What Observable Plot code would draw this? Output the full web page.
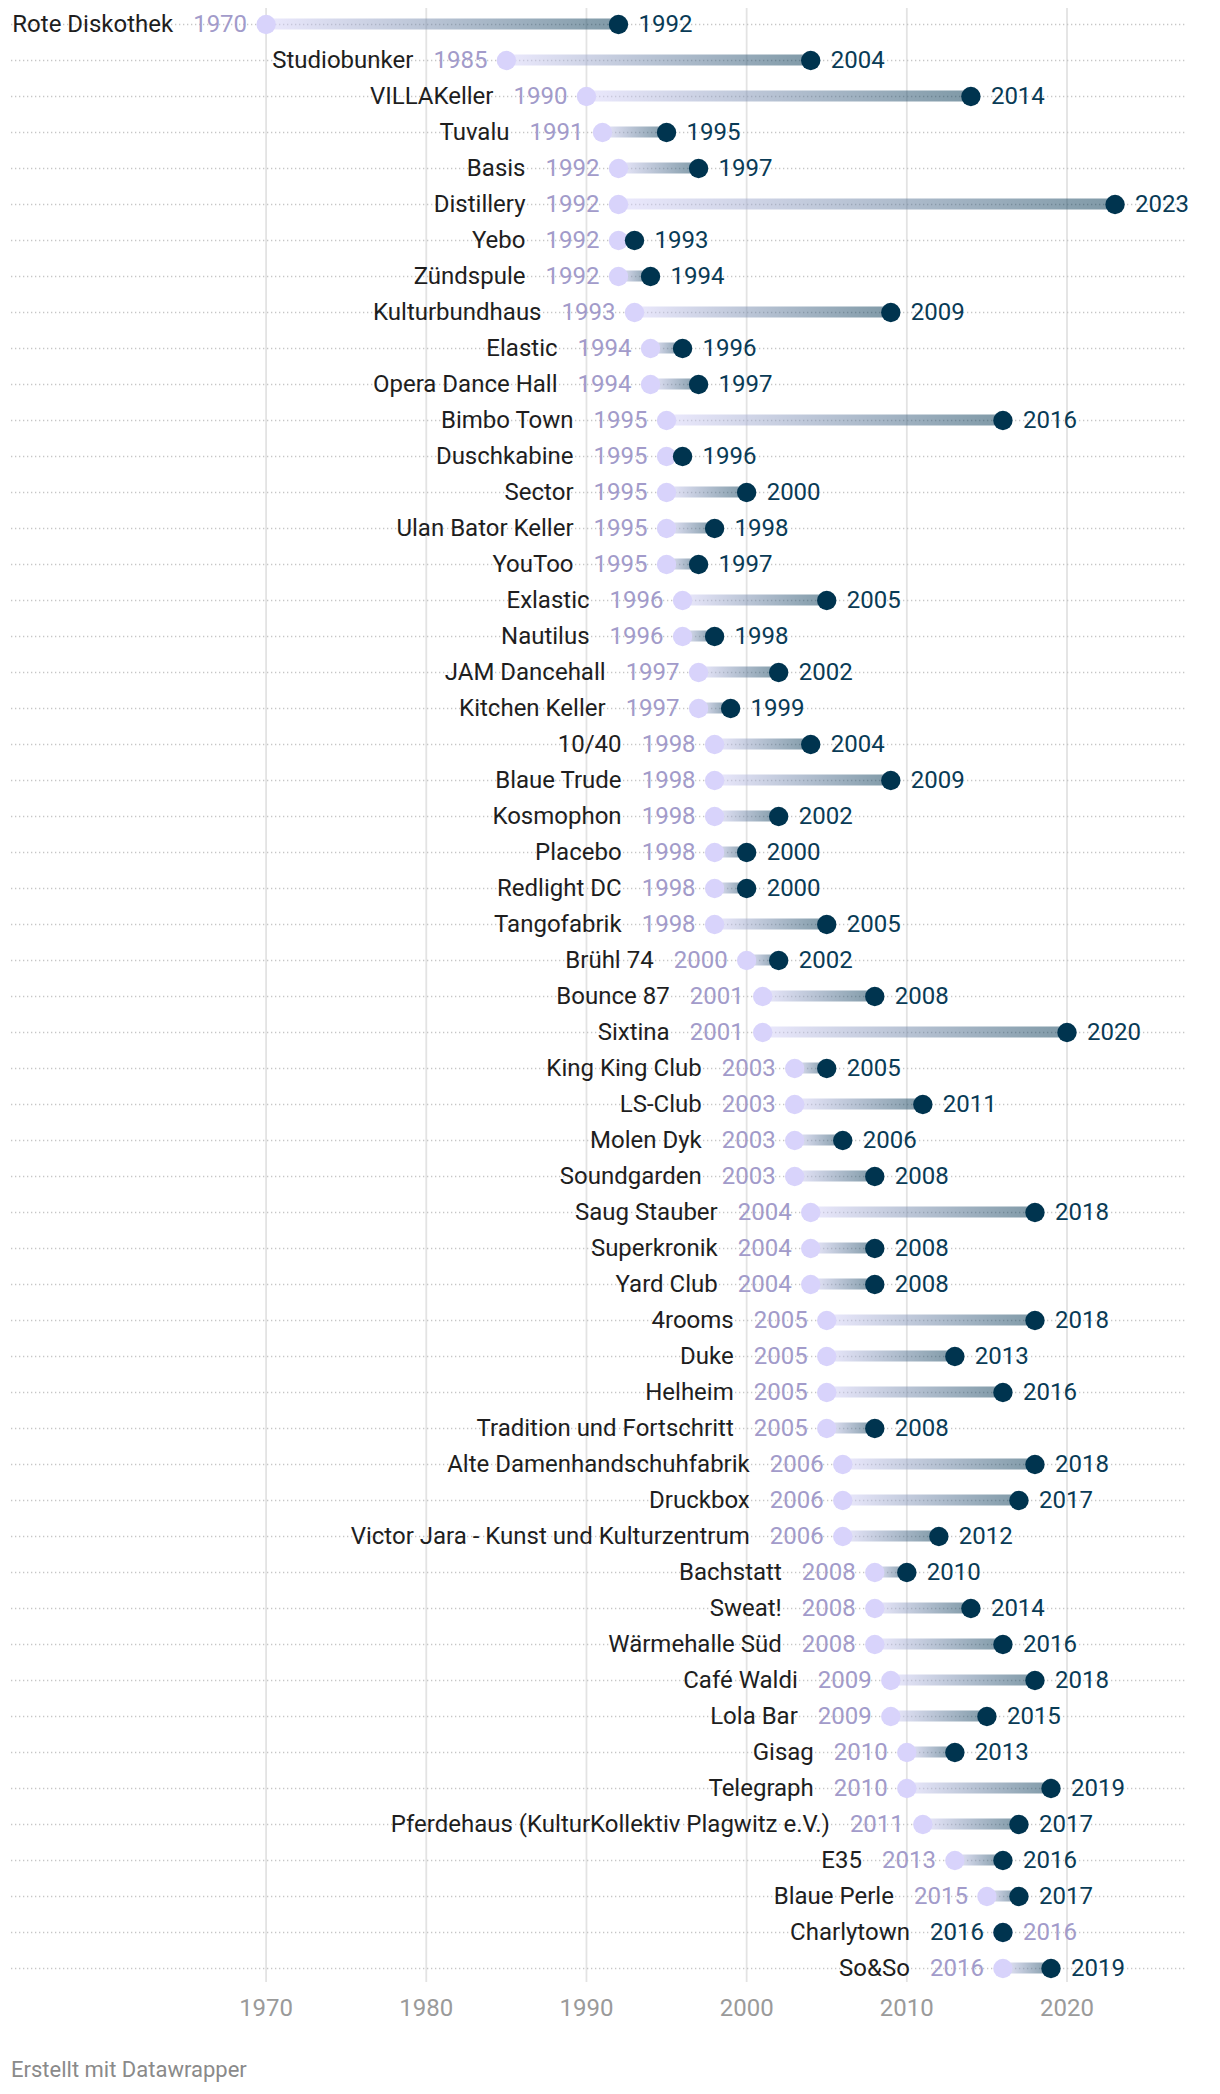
<!DOCTYPE html>
<html><head><meta charset="utf-8">
<script src="https://cdn.jsdelivr.net/npm/d3@7"></script>
<script src="https://cdn.jsdelivr.net/npm/@observablehq/plot@0.6"></script>
<style>
body{margin:0;background:#fff;font-family:Roboto,sans-serif;}
#chart{position:relative;width:1220px;height:2094px;}
#footer{position:absolute;left:11px;top:2059px;font-size:22px;line-height:22px;color:#8a8a8a;font-family:Roboto,sans-serif;}
</style></head><body>
<div id="chart"><div id="footer">Erstellt mit Datawrapper</div></div>
<script>
const names = ["Rote Diskothek","Studiobunker","VILLAKeller","Tuvalu","Basis","Distillery","Yebo","Zündspule","Kulturbundhaus","Elastic","Opera Dance Hall","Bimbo Town","Duschkabine","Sector","Ulan Bator Keller","YouToo","Exlastic","Nautilus","JAM Dancehall","Kitchen Keller","10/40","Blaue Trude","Kosmophon","Placebo","Redlight DC","Tangofabrik","Brühl 74","Bounce 87","Sixtina","King King Club","LS-Club","Molen Dyk","Soundgarden","Saug Stauber","Superkronik","Yard Club","4rooms","Duke","Helheim","Tradition und Fortschritt","Alte Damenhandschuhfabrik","Druckbox","Victor Jara - Kunst und Kulturzentrum","Bachstatt","Sweat!","Wärmehalle Süd","Café Waldi","Lola Bar","Gisag","Telegraph","Pferdehaus (KulturKollektiv Plagwitz e.V.)","E35","Blaue Perle","Charlytown","So&So"];
const starts = [1970,1985,1990,1991,1992,1992,1992,1992,1993,1994,1994,1995,1995,1995,1995,1995,1996,1996,1997,1997,1998,1998,1998,1998,1998,1998,2000,2001,2001,2003,2003,2003,2003,2004,2004,2004,2005,2005,2005,2005,2006,2006,2006,2008,2008,2008,2009,2009,2010,2010,2011,2013,2015,2016,2016];
const ends = [1992,2004,2014,1995,1997,2023,1993,1994,2009,1996,1997,2016,1996,2000,1998,1997,2005,1998,2002,1999,2004,2009,2002,2000,2000,2005,2002,2008,2020,2005,2011,2006,2008,2018,2008,2008,2018,2013,2016,2008,2018,2017,2012,2010,2014,2016,2018,2015,2013,2019,2017,2016,2017,2016,2019];
const xTicks = [1970,1980,1990,2000,2010,2020];

const data = names.map((n,i)=>({name:n,start:starts[i],end:ends[i]}));
const normal = data.filter(d=>d.end>d.start);
const equal = data.filter(d=>d.end<=d.start);

const LIGHT = "#d8d3fb", DARK = "#00344f";
const LIGHT_TXT = "#a29bca", DARK_TXT = "#093b56";
const FS = 24;

const plot = Plot.plot({
  width:1220, height:2030,
  marginTop:8, marginBottom:48, marginLeft:11, marginRight:35,
  x:{domain:[1970,2020], range:[265.6,1066.5]},
  y:{type:"band", domain:names, range:[6,1986], padding:0, axis:null},
  style:{fontFamily:"Roboto, sans-serif", fontSize:FS+"px", background:"white", overflow:"visible"},
  marks:[
    Plot.ruleX(xTicks,{stroke:"#e3e3e3", strokeWidth:1.8}),
    Plot.ruleY(data,{y:"name", stroke:"#c6c6c6", strokeWidth:1.3, strokeDasharray:"1.3,2.7"}),
    Plot.barX(normal,{x1:"start", x2:"end", y:"name", insetTop:12.5, insetBottom:12.5, fill:"url(#rangeGrad)", fillOpacity:0.5}),
    Plot.dot(data,{x:"start", y:"name", r:9.7, fill:LIGHT}),
    Plot.dot(data,{x:"end", y:"name", r:9.7, fill:DARK}),
    Plot.text(normal,{x:"start", y:"name", text:d=>String(d.start), dx:-19, textAnchor:"end", fill:LIGHT_TXT, fontSize:FS}),
    Plot.text(normal,{x:"end", y:"name", text:d=>String(d.end), dx:20, textAnchor:"start", fill:DARK_TXT, fontSize:FS}),
    Plot.text(equal,{x:"end", y:"name", text:d=>String(d.end), dx:-19, textAnchor:"end", fill:DARK_TXT, fontSize:FS}),
    Plot.text(equal,{x:"start", y:"name", text:d=>String(d.start), dx:20, textAnchor:"start", fill:LIGHT_TXT, fontSize:FS}),
    Plot.text(data,{x:d=>Math.min(d.start,d.end), y:"name", text:"name", dx:-93, textAnchor:"end", fill:"#1e1e1e", fontSize:FS}),
    Plot.axisX({ticks:xTicks, tickSize:0, tickPadding:16, tickFormat:d=>String(d), fontSize:FS, color:"#9a9a9a", label:null})
  ]
});

const svg = d3.select(plot);
const defs = svg.insert("defs", ":first-child");
const g = defs.append("linearGradient").attr("id","rangeGrad").attr("x1","0").attr("x2","1").attr("y1","0").attr("y2","0");
g.append("stop").attr("offset","0").attr("stop-color",LIGHT);
g.append("stop").attr("offset","1").attr("stop-color",DARK);

plot.style.position = "absolute";
plot.style.left = "0px";
plot.style.top = "0px";
document.getElementById("chart").prepend(plot);
</script>
</body></html>
